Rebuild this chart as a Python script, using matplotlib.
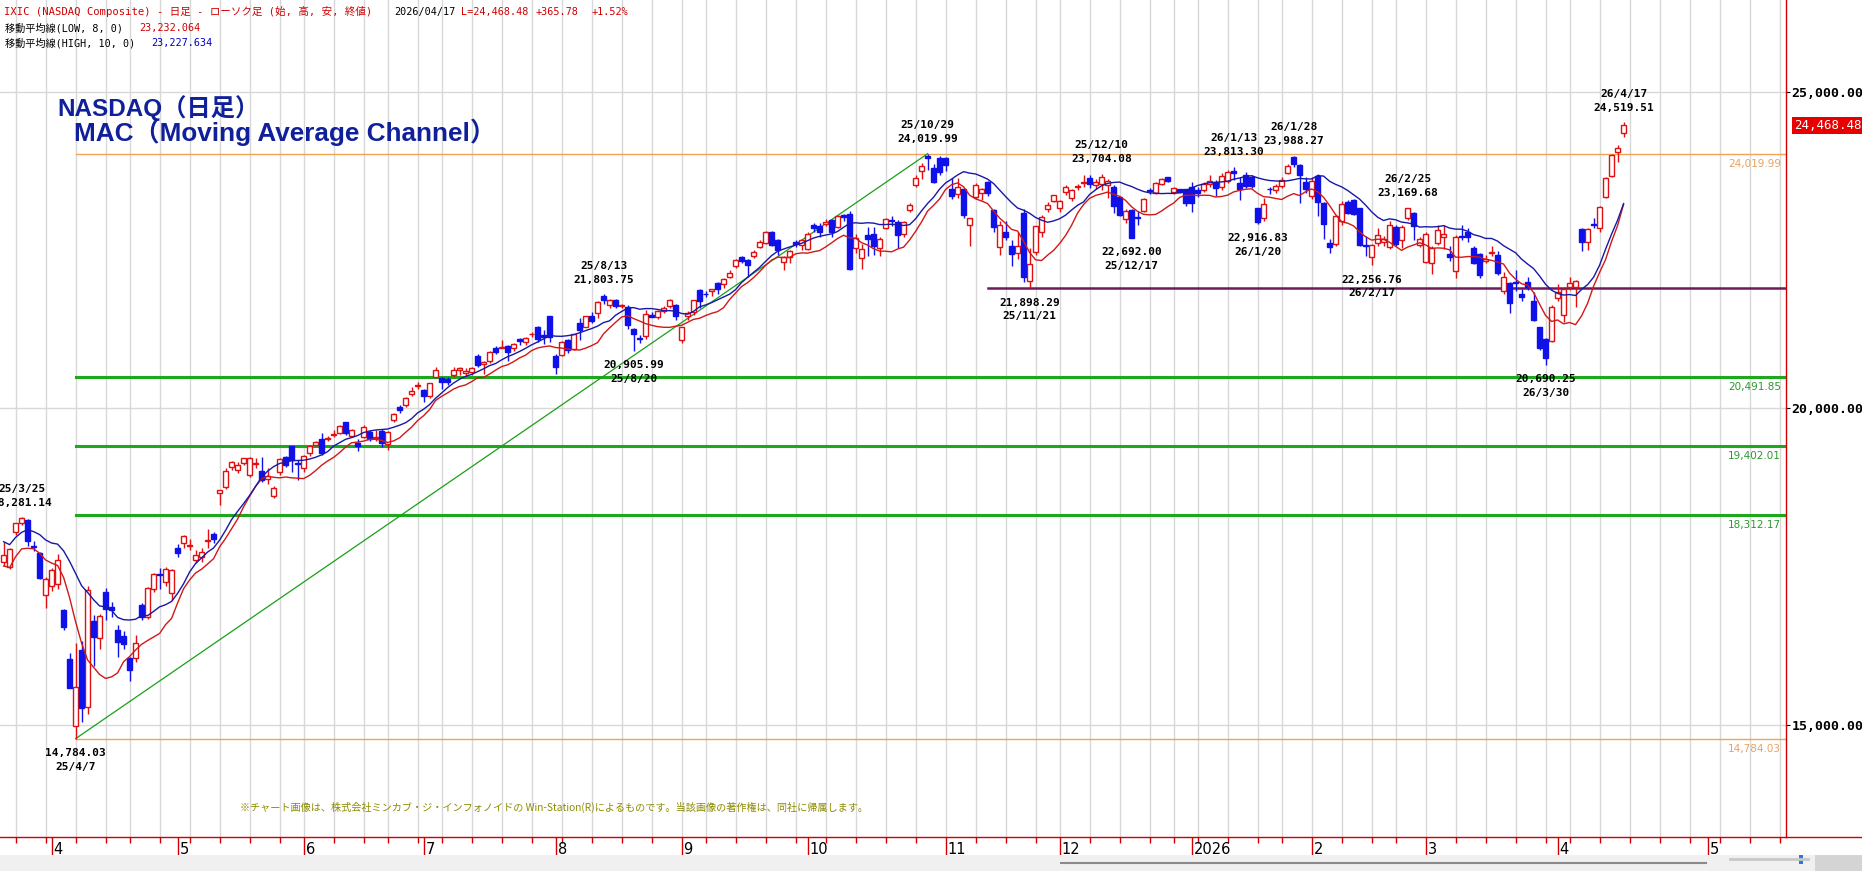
import numpy as np
import pandas as pd
import matplotlib
matplotlib.use('Agg')
import matplotlib.pyplot as plt
from matplotlib.lines import Line2D
from matplotlib.patches import Rectangle

W, H, DPI = 1862, 871, 100

# trading calendar (NASDAQ, daily bars)
START, END = '2025-03-20', '2026-04-17'
HOLIDAYS = ['2025-04-18', '2025-05-26', '2025-06-19', '2025-07-04', '2025-09-01',
            '2025-11-27', '2025-12-25', '2026-01-01', '2026-01-19', '2026-02-16',
            '2026-04-03']

# OHLC, one row per month
OPEN = [
    17578, 17500, 18040, 18190, 18230, 17830, 17720, 17060,
    17200, 17220, 16820, 16040, 14990, 16180, 15290, 16640, 16380, 17100, 16860, 16500, 16410, 16050, 16050, 16890, 16700, 17150, 17390, 17260, 17090,
    17800, 17870, 17830, 17610, 17660, 17900, 18020, 18660, 18760, 19080, 19030, 19140, 18950, 19120, 19010, 18880, 18610, 19000, 19230, 19400, 19130,
    19060, 19290, 19420, 19510, 19520, 19580, 19615, 19780, 19570, 19460, 19550, 19630, 19530, 19640, 19440, 19810, 20020, 20050, 20220, 20350,
    20290, 20190, 20500, 20480, 20460, 20530, 20600, 20560, 20580, 20820, 20700, 20750, 20960, 20960, 20980, 20960, 21100, 21050, 21170, 21280, 21150, 21450,
    20830, 20840, 21080, 20930, 21340, 21290, 21460, 21500, 21770, 21630, 21710, 21610, 21600, 21260, 21110, 21140, 21480, 21440, 21540, 21610, 21630,
    21080, 21450, 21520, 21870, 21810, 21850, 21980, 21960, 22080, 22240, 22390, 22340, 22400, 22550, 22610, 22780, 22660, 22310, 22390, 22620, 22580,
    22520, 22890, 22880, 22910, 22970, 22870, 23050, 23070, 22530, 22370, 22730, 22760, 22530, 22840, 22980, 22940, 22750, 23130, 23530, 23750, 23990, 23790, 23950,
    23950, 23460, 23390, 23460, 22890, 23340, 23400, 23580, 23130, 22550, 22790, 22560, 22450, 23080, 22010, 22470, 22790, 23140, 23270,
    23170, 23420, 23320, 23490, 23560, 23630, 23520, 23540, 23530, 23500, 23340, 22990, 23130, 23020, 23120, 23450, 23400, 23540, 23650, 23410, 23460, 23460,
    23490, 23440, 23450, 23540, 23580, 23490, 23590, 23740, 23560, 23690, 23650, 23160, 23010, 23470, 23440, 23515, 23720, 23970, 23840, 23580,
    23350, 23670, 23240, 22610, 22600, 22960, 23260, 23290, 23160, 22580, 22390, 22610, 22630, 22540, 22860, 22650, 23000, 23090, 22580,
    22315, 22300, 22615, 22700, 22430, 22170, 22720, 22780, 22530, 22440, 22330, 22460, 22420, 21860, 21985, 21990, 21810, 22000, 21700, 21280, 21100, 21068,
    21740, 21475, 21920, 21920, 22830, 22630, 22915, 22840, 23330, 23670, 24050, 24340,
]
HIGH = [
    17894, 17800, 18190, 18281, 18250, 17900, 17730, 17330,
    17480, 17700, 16830, 16140, 16292, 16330, 17200, 16736, 16760, 17166, 16940, 16585, 16480, 16080, 16420, 16920, 17180, 17400, 17480, 17500, 17470,
    17850, 18000, 17930, 17770, 17800, 18100, 18050, 18710, 19050, 19170, 19150, 19220, 19230, 19210, 19230, 19050, 18770, 19210, 19250, 19410, 19180,
    19260, 19420, 19490, 19605, 19560, 19650, 19740, 19790, 19680, 19510, 19730, 19660, 19650, 19680, 19640, 19930, 20060, 20180, 20330, 20420,
    20300, 20400, 20650, 20500, 20500, 20650, 20660, 20630, 20650, 20850, 20750, 20900, 20980, 21080, 21000, 21030, 21110, 21120, 21200, 21300, 21240, 21457,
    20850, 21060, 21100, 21180, 21420, 21460, 21520, 21690, 21804, 21730, 21730, 21650, 21630, 21270, 21160, 21560, 21520, 21560, 21610, 21730, 21640,
    21290, 21530, 21710, 21880, 21850, 21890, 22000, 22050, 22180, 22360, 22400, 22360, 22500, 22660, 22800, 22800, 22680, 22410, 22500, 22660, 22680,
    22780, 22920, 22930, 22990, 22990, 23060, 23070, 23120, 22750, 22600, 22870, 22860, 22700, 23000, 23030, 22980, 22960, 23240, 23680, 23870, 24020, 23850, 23980,
    23975, 23630, 23640, 23480, 23010, 23550, 23480, 23590, 23150, 22950, 22960, 22660, 22790, 23142, 22526, 22880, 23060, 23250, 23370,
    23290, 23530, 23470, 23540, 23680, 23690, 23620, 23704, 23620, 23520, 23350, 23150, 23150, 23110, 23320, 23480, 23570, 23630, 23660, 23500, 23470, 23470,
    23580, 23500, 23570, 23680, 23600, 23720, 23770, 23813, 23660, 23730, 23680, 23170, 23320, 23500, 23540, 23660, 23850, 23988, 23860, 23660,
    23660, 23700, 23250, 22680, 23050, 23270, 23290, 23300, 23170, 22720, 22600, 22850, 22720, 22950, 22900, 22900, 23170, 23100, 22700,
    22780, 22560, 22900, 22890, 22560, 22730, 22890, 22850, 22560, 22460, 22420, 22560, 22480, 22160, 22000, 22180, 21880, 22080, 21841, 21290, 21110, 21630,
    21970, 21900, 22080, 22030, 22840, 22840, 23000, 23190, 23650, 24010, 24160, 24520,
]
LOW = [
    17510, 17460, 18000, 18150, 17830, 17740, 17300, 16854,
    17120, 17150, 16500, 15580, 14784, 15050, 15170, 15938, 16200, 16657, 16700, 16078, 16200, 15700, 16000, 16650, 16680, 17100, 17150, 17200, 16980,
    17650, 17800, 17760, 17560, 17580, 17800, 17880, 18470, 18720, 19020, 18978, 19100, 18920, 19050, 18840, 18800, 18580, 18950, 19080, 19000, 18870,
    19000, 19250, 19400, 19260, 19480, 19540, 19600, 19580, 19540, 19330, 19530, 19480, 19490, 19390, 19342, 19780, 19930, 20020, 20190, 20310,
    20100, 20170, 20490, 20300, 20370, 20500, 20520, 20500, 20520, 20660, 20540, 20720, 20860, 20950, 20740, 20900, 21000, 21000, 21120, 21050, 21015, 21050,
    20540, 20830, 20880, 20920, 21080, 21280, 21340, 21430, 21650, 21580, 21580, 21590, 21260, 20906, 21030, 21100, 21440, 21410, 21500, 21580, 21400,
    21026, 21400, 21480, 21580, 21750, 21780, 21800, 21900, 22050, 22220, 22300, 22080, 22380, 22530, 22600, 22560, 22420, 22180, 22300, 22540, 22500,
    22500, 22780, 22700, 22880, 22700, 22850, 22950, 22180, 22460, 22200, 22400, 22420, 22400, 22830, 22880, 22530, 22700, 23100, 23490, 23620, 23760, 23560, 23680,
    23740, 23300, 23320, 23000, 22560, 23300, 23290, 23350, 22790, 22420, 22650, 22240, 22350, 21990, 21898, 22420, 22700, 23100, 23250,
    23104, 23370, 23280, 23440, 23500, 23480, 23470, 23450, 23320, 23090, 23030, 22921, 22692, 22900, 23100, 23380, 23380, 23520, 23570, 23380, 23400, 23200,
    23100, 23330, 23420, 23500, 23360, 23450, 23560, 23610, 23290, 23480, 23480, 22917, 22950, 23380, 23400, 23480, 23700, 23810, 23240, 23400,
    23300, 23030, 22680, 22450, 22560, 22900, 23070, 23050, 22560, 22400, 22257, 22560, 22560, 22520, 22560, 22530, 22980, 22660, 22540,
    22290, 22120, 22580, 22520, 22330, 22050, 22650, 22630, 22280, 22050, 22300, 22400, 22110, 21800, 21510, 21860, 21700, 21870, 21380, 20920, 20690, 21040,
    21700, 21370, 21870, 21600, 22490, 22500, 22850, 22790, 23320, 23650, 23890, 24280,
]
CLOSE = [
    17691, 17784, 18188, 18272, 17899, 17804, 17323, 17299,
    17450, 17601, 16550, 15588, 15603, 15268, 17125, 16387, 16724, 16831, 16823, 16307, 16286, 15871, 16300, 16708, 17166, 17383, 17366, 17461, 17446,
    17710, 17978, 17844, 17690, 17738, 17928, 17929, 18708, 19010, 19147, 19112, 19211, 19215, 19143, 18873, 18926, 18737, 19199, 19101, 19176, 19114,
    19243, 19399, 19461, 19299, 19530, 19591, 19715, 19615, 19662, 19407, 19701, 19521, 19546, 19447, 19631, 19913, 19973, 20168, 20273, 20370,
    20202, 20393, 20601, 20412, 20418, 20611, 20630, 20586, 20640, 20677, 20730, 20885, 20896, 20974, 20892, 21020, 21057, 21108, 21178, 21098, 21130, 21122,
    20650, 21053, 20916, 21169, 21242, 21450, 21385, 21682, 21713, 21710, 21622, 21630, 21315, 21172, 21100, 21496, 21449, 21544, 21590, 21705, 21455,
    21279, 21497, 21707, 21700, 21798, 21879, 21886, 22043, 22141, 22348, 22333, 22261, 22470, 22631, 22789, 22573, 22497, 22384, 22484, 22591, 22660,
    22755, 22844, 22780, 22942, 22788, 23043, 23024, 22204, 22694, 22521, 22670, 22562, 22680, 22991, 22954, 22740, 22941, 23205, 23637, 23827, 23958, 23581, 23725,
    23834, 23348, 23499, 23054, 23004, 23527, 23468, 23406, 22870, 22900, 22708, 22432, 22564, 22078, 22273, 22872, 23025, 23214, 23366,
    23276, 23490, 23454, 23505, 23578, 23545, 23576, 23654, 23593, 23195, 23057, 23111, 22693, 23006, 23307, 23428, 23561, 23613, 23593, 23474, 23419, 23242,
    23235, 23395, 23547, 23584, 23480, 23670, 23733, 23710, 23470, 23510, 23515, 22935, 23225, 23455, 23505, 23605, 23826, 23850, 23685, 23460,
    23595, 23255, 22905, 22540, 23036, 23226, 23090, 23070, 22580, 22560, 22580, 22740, 22670, 22894, 22600, 22870, 23158, 22880, 22668,
    22752, 22526, 22815, 22750, 22385, 22710, 22700, 22710, 22300, 22105, 22355, 22475, 22140, 22078, 21658, 21975, 21755, 21910, 21394, 20950, 20790, 21595,
    21840, 21880, 21985, 22015, 22630, 22826, 22900, 23183, 23635, 24000, 24103, 24468,
]

# drawn levels
FIBO_FROM = '2025-04-07'
ORANGE_LEVELS = [24019.99, 14784.03]
GREEN_LEVELS = [20491.85, 19402.01, 18312.17]
SUPPORT_LEVEL = 21898.29
SUPPORT_FROM = '2025-11-12'
TREND_FROM = ('2025-04-07', 14784.03)
TREND_TO = ('2025-10-29', 24019.99)

HIGH_MARKS = [('2025-03-25', '25/3/25', 18281.14), ('2025-08-13', '25/8/13', 21803.75),
              ('2025-10-29', '25/10/29', 24019.99), ('2025-12-10', '25/12/10', 23704.08),
              ('2026-01-13', '26/1/13', 23813.30), ('2026-01-28', '26/1/28', 23988.27),
              ('2026-02-25', '26/2/25', 23169.68), ('2026-04-17', '26/4/17', 24519.51)]
LOW_MARKS = [('2025-04-07', '25/4/7', 14784.03), ('2025-08-20', '25/8/20', 20905.99),
             ('2025-11-21', '25/11/21', 21898.29), ('2025-12-17', '25/12/17', 22692.00),
             ('2026-01-20', '26/1/20', 22916.83), ('2026-02-17', '26/2/17', 22256.76),
             ('2026-03-30', '26/3/30', 20690.25)]

LAST_PRICE = 24468.48
MA_LOW_N, MA_HIGH_N = 8, 10
Y_TICKS = [15000, 20000, 25000]
FUTURE_MAY_POS = 284

RED = '#e01010'
BLUE = '#1010e8'
AXRED = '#d00000'
MONO = ['DejaVu Sans Mono', 'Noto Sans CJK JP']
NARROW = ['Liberation Sans Narrow', 'DejaVu Sans']

dates = pd.bdate_range(START, END, freq='C', holidays=HOLIDAYS)
pos = {d.strftime('%Y-%m-%d'): i for i, d in enumerate(dates)}
n = len(dates)
x = np.arange(n)
o, h, l, c = (np.array(a, dtype=float) for a in (OPEN, HIGH, LOW, CLOSE))

fig = plt.figure(figsize=(W / DPI, H / DPI), dpi=DPI)
fig.patch.set_facecolor('white')
ax = fig.add_axes([0, 34 / H, 1786 / W, 837 / H])
ax.set_xlim(-0.6, 297.07)
ax.set_ylim(13231, 26447)

# weekly grid (first trading day of each week), future weeks on plain weekdays
future = pd.bdate_range(dates[-1] + pd.Timedelta(days=1), periods=30)
all_days = dates.append(future)
wk = all_days.to_period('W')
week_pos = [i for i in range(1, len(all_days)) if wk[i] != wk[i - 1] and i < 297]
mon = dates.to_period('M')
month_pos = [i for i in range(1, n) if mon[i] != mon[i - 1]]
month_lbl = [str(dates[i].year) if dates[i].month == 1 else str(dates[i].month) for i in month_pos]
month_pos.append(FUTURE_MAY_POS)
month_lbl.append('5')

ax.set_xticks(month_pos)
ax.set_xticks(week_pos, minor=True)
ax.set_xticklabels([])
ax.tick_params(axis='x', which='major', length=13, color=AXRED, width=1, direction='out')
ax.tick_params(axis='x', which='minor', length=4.3, color=AXRED, width=1, direction='out')
for xp in week_pos:
    ax.axvline(xp, color='#d8d8d8', lw=1, zorder=0)
for yv in Y_TICKS:
    ax.axhline(yv, color='#d8d8d8', lw=1, zorder=0)

ax.yaxis.tick_right()
ax.set_yticks(Y_TICKS)
ax.set_yticklabels([f'{v:,.2f}' for v in Y_TICKS])
ax.tick_params(axis='y', length=3, color='black', pad=1, labelsize=9.5)
for t in ax.get_yticklabels():
    t.set_fontfamily('DejaVu Sans Mono')
    t.set_fontweight('bold')

for s in ('left', 'top'):
    ax.spines[s].set_visible(False)
for s in ('right', 'bottom'):
    ax.spines[s].set_color(AXRED)
    ax.spines[s].set_linewidth(1)
fig.add_artist(Line2D([1786 / W, 1], [1 - 837 / H] * 2, color=AXRED, lw=1))

for xp, lab in zip(month_pos, month_lbl):
    ax.annotate(lab, (xp, 0), xycoords=('data', 'axes fraction'), xytext=(2, -5),
                textcoords='offset pixels', ha='left', va='top', fontsize=10.5,
                family=NARROW, color='black', annotation_clip=False)

# levels
i0 = pos[FIBO_FROM]
for v in ORANGE_LEVELS:
    ax.plot([i0, 297.07], [v, v], color='#f4a450', lw=1, zorder=1.5)
for v in GREEN_LEVELS:
    ax.plot([i0, 297.07], [v, v], color='#1ea81e', lw=2.2, zorder=1.5)
ax.plot([pos[SUPPORT_FROM], 297.07], [SUPPORT_LEVEL] * 2, color='#6e1a5e', lw=1.8, zorder=1.5)
ax.plot([pos[TREND_FROM[0]], pos[TREND_TO[0]]], [TREND_FROM[1], TREND_TO[1]],
        color='#18a018', lw=0.9, zorder=1.5)
for v, col in [(v, '#eaa060') for v in ORANGE_LEVELS] + [(v, '#2a9a2a') for v in GREEN_LEVELS]:
    ax.annotate(f'{v:,.2f}', (1, v), xycoords=('axes fraction', 'data'), xytext=(-5, -10),
                textcoords='offset pixels', ha='right', va='center', fontsize=7.5,
                family=NARROW, color=col)

# candles
up = c >= o
ax.vlines(x, l, h, colors=np.where(up, RED, BLUE), lw=1, zorder=2)
ax.bar(x[up], (c - o)[up], bottom=o[up], width=0.74, facecolor='white', edgecolor=RED, lw=1, zorder=3)
ax.bar(x[~up], (o - c)[~up], bottom=c[~up], width=0.74, facecolor=BLUE, edgecolor=BLUE, lw=1, zorder=3)

# moving average channel
ma_low = pd.Series(l).rolling(MA_LOW_N, min_periods=1).mean()
ma_high = pd.Series(h).rolling(MA_HIGH_N, min_periods=1).mean()
ax.plot(x, ma_low, color='#d01818', lw=1, zorder=4)
ax.plot(x, ma_high, color='#1818a8', lw=1, zorder=4)

# peak / trough labels
lab_kw = dict(textcoords='offset pixels', ha='center', va='center', fontsize=8,
              family='DejaVu Sans Mono', fontweight='bold', color='black')
for d, ds, v in HIGH_MARKS:
    ax.annotate(f'{v:,.2f}', (pos[d], v), xytext=(0, 14.5), **lab_kw)
    ax.annotate(ds, (pos[d], v), xytext=(0, 28.5), **lab_kw)
for d, ds, v in LOW_MARKS:
    ax.annotate(f'{v:,.2f}', (pos[d], v), xytext=(0, -14.5), **lab_kw)
    ax.annotate(ds, (pos[d], v), xytext=(0, -28), **lab_kw)

# last price badge
ax.annotate(f'{LAST_PRICE:,.2f}', (1, LAST_PRICE), xycoords=('axes fraction', 'data'),
            xytext=(8, 0), textcoords='offset pixels', ha='left', va='center',
            fontsize=9, family='DejaVu Sans Mono', color='white', annotation_clip=False,
            bbox=dict(boxstyle='square,pad=0.15', fc='#e80000', ec='none'))


def ftext(px, py, s, **kw):
    fig.text(px / W, 1 - py / H, s, **kw)


hd = dict(fontsize=7.3, family=MONO, va='center', ha='left')
ftext(4, 11.7, 'IXIC (NASDAQ Composite) - 日足 - ローソク足 (始, 高, 安, 終値)', color=AXRED,
      **dict(hd, fontsize=7.55))
ftext(394, 11.7, '2026/04/17', color='black', **hd)
ftext(461, 11.7, 'L=24,468.48', color=AXRED, **hd)
ftext(536, 11.7, '+365.78', color=AXRED, **hd)
ftext(592, 11.7, '+1.52%', color=AXRED, **hd)
ftext(5, 28.3, '移動平均線(LOW, 8, 0)', color='black', **hd)
ftext(139, 28.3, '23,232.064', color=AXRED, **hd)
ftext(5, 43.3, '移動平均線(HIGH, 10, 0)', color='black', **hd)
ftext(151, 43.3, '23,227.634', color='#0000c0', **hd)

tt = dict(family=['Liberation Sans', 'Noto Sans CJK JP'], fontweight='bold',
          color='#10209a', va='center', ha='left')
ftext(57, 108, 'NASDAQ（日足）', fontsize=17.5, **tt)
ftext(74, 132, 'MAC（Moving Average Channel）', fontsize=18.8, **tt)

ftext(554, 807.5, '※チャート画像は、株式会社ミンカブ・ジ・インフォノイドの Win-Station(R)によるものです。当該画像の著作権は、同社に帰属します。',
      fontsize=7.3, family=['Noto Sans CJK JP'], color='#8c8c00', ha='center', va='center')

# bottom strip with scroll bar and zoom slider
fig.add_artist(Rectangle((0, 0), 1, 16 / H, transform=fig.transFigure, fc='#f0f0f0', ec='none'))
fig.add_artist(Line2D([1061 / W, 1706 / W], [1 - 862.5 / H] * 2, color='#8a8a8a', lw=1.5))
fig.add_artist(Line2D([1730 / W, 1808 / W], [1 - 859 / H] * 2, color='#c8c8c8', lw=2))
fig.add_artist(Rectangle((1799 / W, 1 - 864 / H), 4 / W, 9 / H, transform=fig.transFigure,
                         fc='#2a7ad8', ec='none'))
fig.add_artist(Rectangle((1815 / W, 0), 47 / W, 16 / H, transform=fig.transFigure,
                         fc='#d4d4d4', ec='none'))

fig.savefig('out.png', dpi=DPI)
